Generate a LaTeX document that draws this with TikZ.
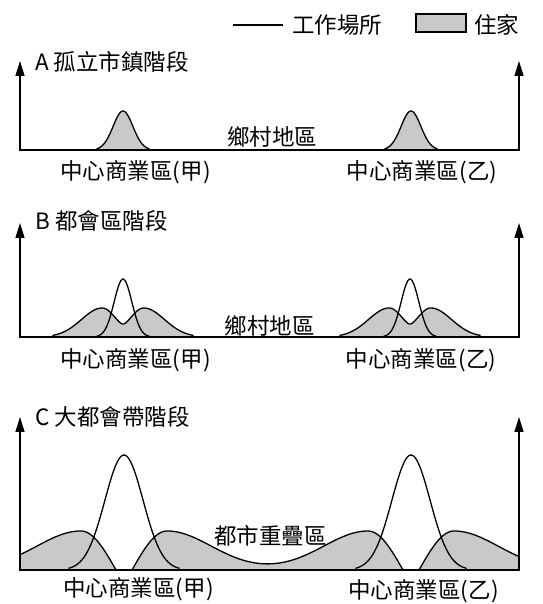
\documentclass[tikz,border=0pt]{standalone}
\usepackage{fontspec}
\setmainfont{Noto Sans CJK TC}
\usetikzlibrary{arrows.meta}

\begin{document}
\begin{tikzpicture}[x=1pt, y=1pt,
    axis/.style={line width=1.4pt, {Triangle[length=15pt,width=9pt]}-{Triangle[length=15pt,width=9pt]}},
    work/.style={line width=1.3pt},
    house/.style={line width=1.3pt, fill=gray!42},
    lbl/.style={font=\fontsize{22.5}{22.5}\selectfont, inner sep=0pt},
    declare function={
      peakA(\u)=39*exp(-(\u/14)^2);
      workB(\u)=58*exp(-(\u/12.5)^2);
      houseB(\u)=29*exp(-((sqrt(\u*\u+9)-21)/(20+9*(abs(\u)>21)))^2);
      workC(\u)=115*exp(-(\u/27)^2);
      hillC(\d)=(\d<43)*max(0,39*cos(2.5714*(43-min(\d,43))))+(1-(\d<43))*39*exp(-min(((\d-43)/63)^2,9));
    }]
    \useasboundingbox (0,0) rectangle (542,604);

    % Legend
    \draw[work] (233,579) -- (283,579);
    \node[lbl, anchor=west] (workKey) at (292,579) {工作場所};
    \draw[house] (416,572) rectangle (466,590);
    \node[lbl, anchor=west] (houseKey) at (474,579) {住家};

    % A: isolated towns
    \begin{scope}[shift={(0,454)}]
        \node[lbl, anchor=west] (titleA) at (35,88) {A 孤立市鎮階段};
        \foreach \c in {123,411}
            \filldraw[house] (\c-26,0) -- plot[domain=\c-26:\c+26, samples=40] (\x,{peakA(\x-\c)}) -- (\c+26,0);
        \draw[axis] (20,89) -- (20,0) -- (519,0) -- (519,89);
        \node[lbl] (ruralA) at (272,13) {鄉村地區};
        \node[lbl] (cbdA1) at (135.5,-22) {中心商業區(甲)};
        \node[lbl] (cbdA2) at (422,-22) {中心商業區(乙)};
    \end{scope}

    % B: metropolitan areas
    \begin{scope}[shift={(0,267)}]
        \node[lbl, anchor=west] (titleB) at (35,116) {B 都會區階段};
        \foreach \c in {123,410} {
            \filldraw[house] (\c-70,0) -- plot[domain=\c-70:\c+70, samples=90] (\x,{houseB(\x-\c)}) -- (\c+70,0);
            \draw[work] (\c-26,0) -- plot[domain=\c-26:\c+26, samples=40] (\x,{workB(\x-\c)}) -- (\c+26,0);
        }
        \draw[axis] (20,114) -- (20,0) -- (519,0) -- (519,114);
        \node[lbl] (ruralB) at (269.5,11) {鄉村地區};
        \node[lbl] (cbdB1) at (135.5,-23) {中心商業區(甲)};
        \node[lbl] (cbdB2) at (421,-23) {中心商業區(乙)};
    \end{scope}

    % C: megalopolis
    \begin{scope}[shift={(0,34)}]
        \node[lbl, anchor=west] (titleC) at (35,153) {C 大都會帶階段};
        \filldraw[house] (20,0) -- plot[domain=20:519, samples=250] (\x,{hillC(abs(\x-124))+hillC(abs(\x-411))}) -- (519,0) -- cycle;
        \foreach \c in {124,411}
            \draw[work] (\c-55,0) -- plot[domain=\c-55:\c+55, samples=60] (\x,{workC(\x-\c)}) -- (\c+55,0);
        \draw[axis] (20,153) -- (20,0) -- (519,0) -- (519,153);
        \node[lbl] (overlapC) at (270.5,34) {都市重疊區};
        \node[lbl] (cbdC1) at (138.5,-19) {中心商業區(甲)};
        \node[lbl] (cbdC2) at (423.5,-21) {中心商業區(乙)};
    \end{scope}
\end{tikzpicture}
\end{document}
